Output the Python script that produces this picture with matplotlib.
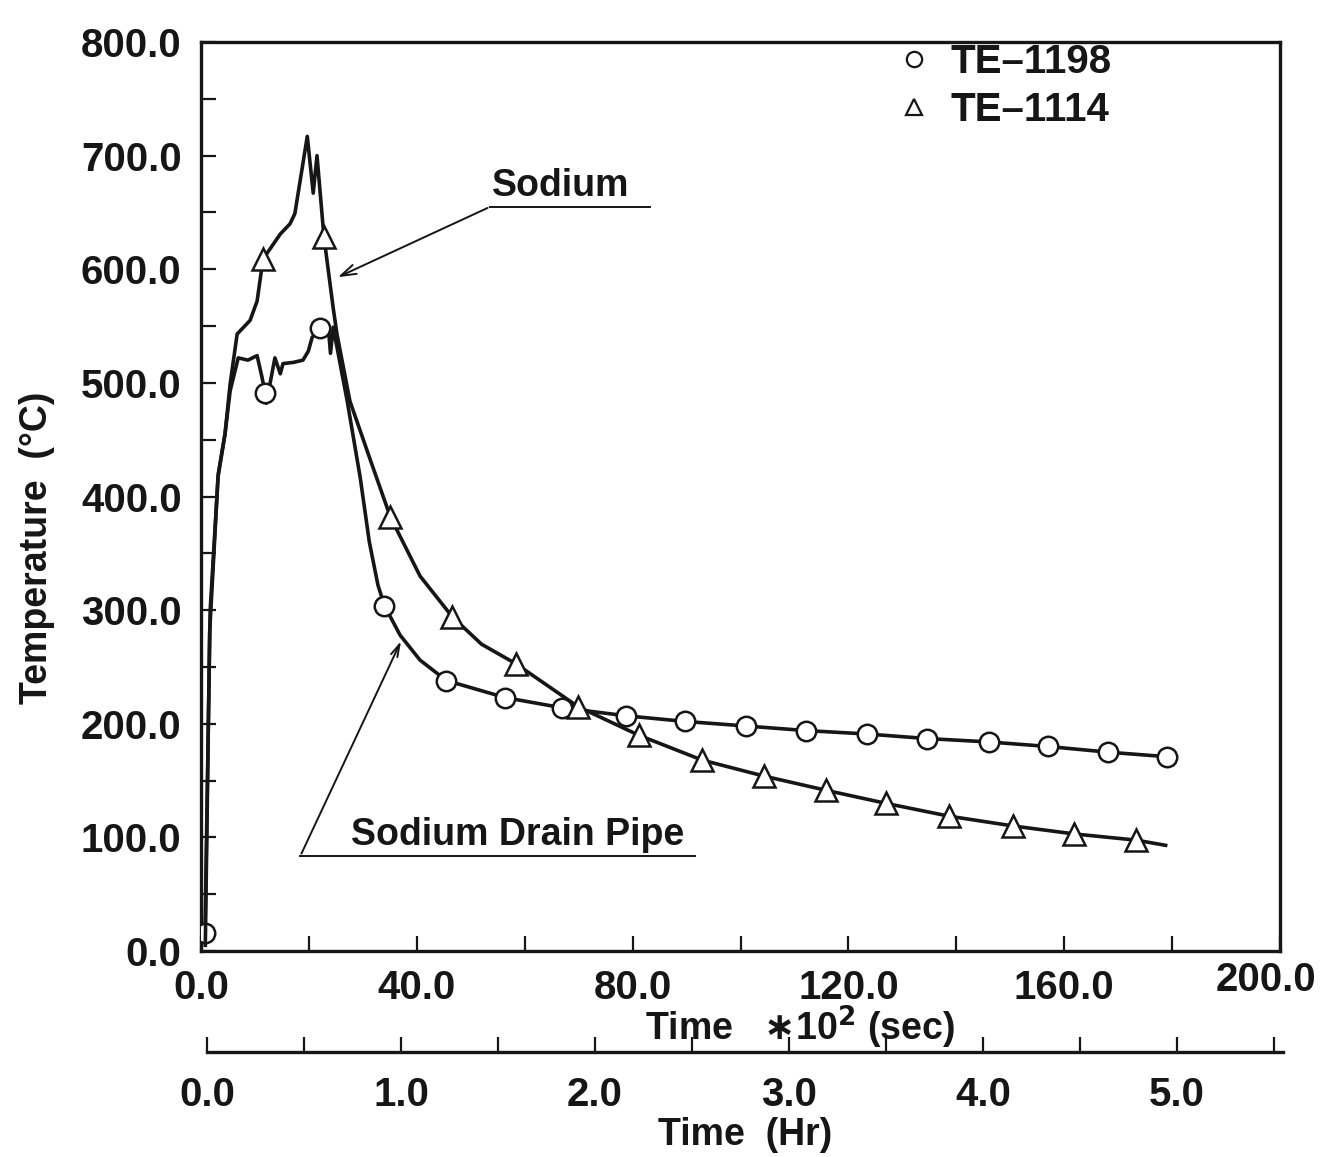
import matplotlib
matplotlib.use("Agg")
import matplotlib.pyplot as plt
import matplotlib.transforms as mtransforms
from matplotlib.lines import Line2D
from matplotlib.ticker import MultipleLocator, FixedLocator

# ---------------- data (time in 10^2 s, temperature in deg C) ----------------
te1198_t = [0.74, 1.7, 3.2, 4.45, 5.4, 6.9, 8.7, 10.4, 11.3, 11.9, 12.1, 13.7, 14.7, 15.2,
            17.1, 18.9, 19.9, 20.6, 22.1, 23.6, 24.0, 24.5, 27.1, 29.5, 31.2, 32.8, 34.0, 36.9,
            40.6, 45.5, 56.4, 67.0, 78.8, 89.8, 101.1, 112.1, 123.4, 134.5, 146.0,
            157.0, 168.1, 179.0]
te1198_T = [16, 300, 420, 455, 493, 522, 520, 524, 505, 491, 482, 522, 508, 517,
            518, 520, 528, 540, 548, 549, 526, 549, 484, 417, 360, 322, 304, 278,
            256, 238, 223, 214, 207, 202, 198, 194, 191, 187, 184,
            180, 175, 171]
te1198_marks = [0, 9, 18, 26, 29, 30, 31, 32, 33, 34, 35, 36, 37, 38, 39, 40, 41]

te1114_t = [0.8, 1.6, 3.15, 4.45, 5.4, 6.7, 9.1, 10.4, 11.5, 14.7, 16.5, 17.4, 19.7,
            20.8, 21.5, 22.8, 24.5, 25.2, 27.6, 31.4, 35.1, 40.6, 46.6, 52.0, 58.3,
            69.9, 81.1, 92.9, 104.3, 115.8, 126.9, 138.6, 150.6, 161.9, 173.3, 178.8]
te1114_T = [5, 280, 417, 455, 499, 543, 555, 572, 609, 631, 640, 649, 717,
            667, 700, 628, 566, 543, 484, 432, 382, 330, 294, 270, 253,
            215, 190, 168, 154, 141.5, 130, 118.7, 110, 103, 97.6, 93]
te1114_marks = [8, 15, 20, 22, 24, 25, 26, 27, 28, 29, 30, 31, 32, 33, 34]

x_major = [0, 40, 80, 120, 160, 200]
x_labels = ["0.0", "40.0", "80.0", "120.0", "160.0", "200.0"]
y_major = [0, 100, 200, 300, 400, 500, 600, 700, 800]
y_labels = ["0.0", "100.0", "200.0", "300.0", "400.0", "500.0", "600.0", "700.0", "800.0"]
hr_major = [0, 1, 2, 3, 4, 5]
hr_labels = ["0.0", "1.0", "2.0", "3.0", "4.0", "5.0"]

series_labels = ["TE\u20131198", "TE\u20131114"]
ann_sodium = "Sodium"
ann_drain = "Sodium Drain Pipe"

# ---------------- style ----------------
plt.rcParams['font.family'] = ['Liberation Sans', 'DejaVu Sans']
plt.rcParams['font.weight'] = 'bold'
INK = "#161616"
FS = 29
FS_T = 27

W, H = 1321, 1157
fig = plt.figure(figsize=(W / 100, H / 100), dpi=100)
fig.patch.set_facecolor("white")

L, R, T_, B = 201, 1280, 42, 951
ax = fig.add_axes([L / W, 1 - B / H, (R - L) / W, (B - T_) / H])
ax.set_xlim(0, 200)
ax.set_ylim(0, 800)

ax.plot(te1198_t, te1198_T, color=INK, lw=2.6, marker='o', markevery=te1198_marks,
        ms=14, mfc='white', mec=INK, mew=1.8, zorder=3)
ax.plot(te1114_t, te1114_T, color=INK, lw=2.6, marker='^', markevery=te1114_marks,
        ms=16, mfc='white', mec=INK, mew=1.8, zorder=3)

for sp in ax.spines.values():
    sp.set_linewidth(2.4)
    sp.set_color(INK)

ax.xaxis.set_major_locator(FixedLocator(x_major))
ax.set_xticklabels(x_labels)
ax.xaxis.set_minor_locator(MultipleLocator(20))
ax.yaxis.set_major_locator(FixedLocator(y_major))
ax.set_yticklabels(y_labels)
ax.yaxis.set_minor_locator(MultipleLocator(50))
ax.tick_params(axis='both', which='both', direction='in', length=11, width=1.6,
               color=INK, labelsize=FS, labelcolor=INK, top=False, right=False)
ax.tick_params(axis='x', which='major', pad=13)
ax.tick_params(axis='y', which='major', pad=14)
for lbl in ax.get_xticklabels() + ax.get_yticklabels():
    lbl.set_fontweight('bold')
last = ax.xaxis.get_major_ticks()[-1].label1
last.set_transform(last.get_transform() +
                   mtransforms.ScaledTranslation(-14 / 100, 8 / 100, fig.dpi_scale_trans))

# legend
handles = [Line2D([], [], ls='none', marker='o', ms=11, mfc='white', mec=INK, mew=1.6),
           Line2D([], [], ls='none', marker='^', ms=12, mfc='white', mec=INK, mew=1.6)]
leg = ax.legend(handles, series_labels, loc='upper right', bbox_to_anchor=(0.87, 1.03),
                frameon=False, fontsize=FS, handlelength=0.8, handletextpad=0.5,
                labelspacing=0.25, borderpad=0.2)
for txt in leg.get_texts():
    txt.set_fontweight('bold')
    txt.set_color(INK)

# annotations
ax.plot([53.6, 83.3], [655, 655], color=INK, lw=1.4)
ax.annotate("", xy=(24.9, 592), xytext=(53.6, 655),
            arrowprops=dict(arrowstyle='->,head_length=1.1,head_width=0.35', color=INK, lw=1.4))
ax.text(66.6, 673, ann_sodium, ha='center', va='center', fontsize=FS_T, fontweight='bold', color=INK)

ax.plot([18.4, 91.6], [83.5, 83.5], color=INK, lw=1.4)
ax.annotate("", xy=(37.3, 275), xytext=(18.4, 83.5),
            arrowprops=dict(arrowstyle='->,head_length=0.9,head_width=0.25', color=INK, lw=1.4))
ax.text(58.6, 102, ann_drain, ha='center', va='center', fontsize=FS_T, fontweight='bold', color=INK)

# axis labels
fig.text(800 / W, 1 - 1027 / H, "Time   $\\ast$10$^{\\mathbf{2}}$ (sec)", ha='center', va='center',
         fontsize=FS_T, fontweight='bold', color=INK)
fig.text(37 / W, 1 - 548 / H, "Temperature  (\u00b0C)", ha='center', va='center',
         rotation=90, fontsize=FS_T, fontweight='bold', color=INK)

# secondary hour axis
HL, HR_, HY = 207, 1283, 1052
axh = fig.add_axes([HL / W, 1 - HY / H, (HR_ - HL) / W, 0.0005])
axh.set_xlim(0, (HR_ - HL) / 194.0)
axh.set_ylim(0, 1)
axh.patch.set_alpha(0)
for k in ['left', 'right', 'top']:
    axh.spines[k].set_visible(False)
axh.spines['bottom'].set_linewidth(2.4)
axh.spines['bottom'].set_color(INK)
axh.set_yticks([])
axh.xaxis.set_major_locator(FixedLocator(hr_major))
axh.set_xticklabels(hr_labels)
axh.xaxis.set_minor_locator(MultipleLocator(0.5))
axh.tick_params(axis='x', which='both', direction='in', length=11, width=1.6, color=INK,
                labelsize=FS, labelcolor=INK, pad=17)
for lbl in axh.get_xticklabels():
    lbl.set_fontweight('bold')
fig.text(745 / W, 1 - 1135 / H, "Time  (Hr)", ha='center', va='center',
         fontsize=FS_T, fontweight='bold', color=INK)

fig.savefig("out.png", dpi=100, facecolor="white")
